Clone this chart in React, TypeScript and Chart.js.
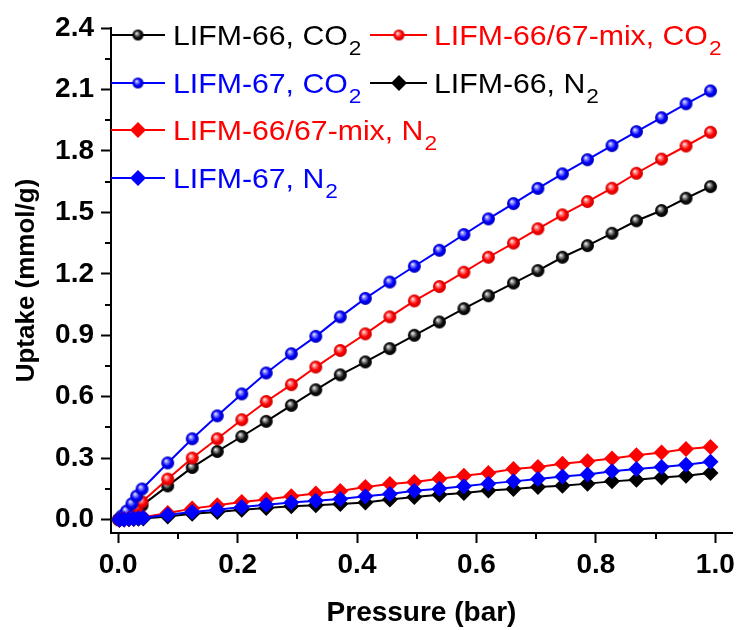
import React, { useEffect, useRef } from "react";
import { Chart, registerables } from "chart.js";

Chart.register(...registerables);

// Pressure points (bar) of the CO2 and N2 isotherms
const pressureCO2 = [
  0.001, 0.006, 0.014, 0.023, 0.031, 0.04, 0.083, 0.124, 0.166, 0.207, 0.248, 0.29, 0.331, 0.372, 0.414,
  0.455, 0.496, 0.538, 0.579, 0.62, 0.662, 0.703, 0.744, 0.786, 0.827, 0.868, 0.91, 0.951, 0.992,
];
const pressureN2 = [
  0.002, 0.01, 0.018, 0.026, 0.034, 0.042, 0.083, 0.124, 0.166, 0.207, 0.248, 0.29, 0.331, 0.372, 0.414,
  0.455, 0.496, 0.538, 0.579, 0.62, 0.662, 0.703, 0.744, 0.786, 0.827, 0.868, 0.91, 0.951, 0.992,
];

// Uptake (mmol/g)
const lifm66CO2 = [
  0.0, 0.008, 0.02, 0.035, 0.05, 0.07, 0.165, 0.255, 0.333, 0.406, 0.48, 0.558, 0.634, 0.707, 0.77,
  0.835, 0.9, 0.965, 1.03, 1.093, 1.155, 1.216, 1.281, 1.338, 1.398, 1.459, 1.509, 1.569, 1.626,
];
const mixCO2 = [
  0.0, 0.01, 0.025, 0.043, 0.062, 0.087, 0.198, 0.301, 0.395, 0.488, 0.577, 0.659, 0.745, 0.826, 0.907,
  0.99, 1.068, 1.138, 1.208, 1.281, 1.35, 1.42, 1.488, 1.553, 1.618, 1.691, 1.76, 1.824, 1.891,
];
const lifm67CO2 = [
  0.002, 0.018, 0.042, 0.078, 0.115, 0.15, 0.277, 0.395, 0.507, 0.614, 0.716, 0.81, 0.895, 0.99, 1.08,
  1.16, 1.237, 1.315, 1.392, 1.468, 1.543, 1.617, 1.688, 1.757, 1.826, 1.894, 1.962, 2.03, 2.093,
];
const lifm66N2 = [
  0.0, 0.001, 0.002, 0.003, 0.004, 0.006, 0.016, 0.029, 0.037, 0.049, 0.057, 0.065, 0.07, 0.077, 0.084,
  0.098, 0.111, 0.122, 0.13, 0.143, 0.15, 0.16, 0.166, 0.176, 0.187, 0.195, 0.206, 0.215, 0.228,
];
const mixN2 = [
  0.0, 0.002, 0.004, 0.006, 0.009, 0.012, 0.033, 0.054, 0.07, 0.086, 0.098, 0.114, 0.128, 0.14, 0.159,
  0.174, 0.184, 0.2, 0.215, 0.228, 0.247, 0.257, 0.273, 0.285, 0.299, 0.314, 0.328, 0.345, 0.355,
];
const lifm67N2 = [
  0.0, 0.001, 0.003, 0.005, 0.007, 0.009, 0.024, 0.037, 0.049, 0.062, 0.073, 0.084, 0.093, 0.101, 0.114,
  0.125, 0.141, 0.151, 0.163, 0.176, 0.187, 0.198, 0.211, 0.22, 0.236, 0.247, 0.257, 0.268, 0.283,
];

// Legend labels: main text and subscript
const labelMain = ["LIFM-66, CO", "LIFM-66/67-mix, CO", "LIFM-67, CO", "LIFM-66, N", "LIFM-66/67-mix, N", "LIFM-67, N"];
const labelSub = ["2", "2", "2", "2", "2", "2"];

// Axis ranges and steps
const xMin = -0.012;
const xMax = 1.028;
const xStep = 0.2;
const yMin = -0.065;
const yMax = 2.4;
const yStep = 0.3;

const BLACK = "#000000";
const RED = "#ff0000";
const BLUE = "#0000ff";
const FONT = "'Liberation Sans', Arial, Helvetica, sans-serif";

type Shade = { base: string; light: string; dark: string };
const shades: Record<string, Shade> = {
  [BLACK]: { base: "#101010", light: "#a8a8a8", dark: "#000000" },
  [RED]: { base: "#ff0000", light: "#ff9a9a", dark: "#c80000" },
  [BLUE]: { base: "#0000ff", light: "#9a9aff", dark: "#0000b4" },
};

// Shaded ball used as the CO2 marker
function makeSphere(color: string, diameter: number): HTMLCanvasElement {
  const s = shades[color];
  const size = Math.ceil(diameter) + 2;
  const c = document.createElement("canvas");
  c.width = size;
  c.height = size;
  const ctx = c.getContext("2d")!;
  const r = diameter / 2;
  const cx = size / 2;
  const cy = size / 2;
  const g = ctx.createRadialGradient(cx - r * 0.3, cy - r * 0.35, 0, cx, cy, r);
  g.addColorStop(0, "#ffffff");
  g.addColorStop(0.22, s.light);
  g.addColorStop(0.62, s.base);
  g.addColorStop(1, s.dark);
  ctx.fillStyle = g;
  ctx.beginPath();
  ctx.arc(cx, cy, r, 0, Math.PI * 2);
  ctx.fill();
  return c;
}

type Series = { x: number[]; y: number[]; color: string; marker: "sphere" | "diamond" };
const seriesList: Series[] = [
  { x: pressureCO2, y: lifm66CO2, color: BLACK, marker: "sphere" },
  { x: pressureCO2, y: mixCO2, color: RED, marker: "sphere" },
  { x: pressureCO2, y: lifm67CO2, color: BLUE, marker: "sphere" },
  { x: pressureN2, y: lifm66N2, color: BLACK, marker: "diamond" },
  { x: pressureN2, y: mixN2, color: RED, marker: "diamond" },
  { x: pressureN2, y: lifm67N2, color: BLUE, marker: "diamond" },
];

// Legend placement: two columns, four rows
const legendCols = [
  { lineStart: 111, lineEnd: 165, markerX: 138, textX: 173 },
  { lineStart: 370, lineEnd: 427, markerX: 399, textX: 434 },
];
const legendRowY = [35, 83, 130, 178];
const legendSlots = [
  [0, 0],
  [0, 1],
  [1, 0],
  [1, 1],
  [2, 0],
  [3, 0],
];

export default function App() {
  const ref = useRef<HTMLCanvasElement>(null);

  useEffect(() => {
    const canvas = ref.current;
    if (!canvas) return;

    const plotSpheres: Record<string, HTMLCanvasElement> = {};
    const keySpheres: Record<string, HTMLCanvasElement> = {};
    [BLACK, RED, BLUE].forEach((c) => {
      plotSpheres[c] = makeSphere(c, 13);
      keySpheres[c] = makeSphere(c, 11);
    });

    const minorTicks = {
      id: "minorTicks",
      afterDraw(chart: any) {
        const { ctx } = chart;
        const xs = chart.scales.x;
        const ys = chart.scales.y;
        const area = chart.chartArea;
        ctx.save();
        ctx.strokeStyle = BLACK;
        ctx.lineWidth = 2;
        ctx.beginPath();
        for (let v = xStep / 2; v < xMax; v += xStep) {
          const px = Math.round(xs.getPixelForValue(v));
          ctx.moveTo(px, area.bottom);
          ctx.lineTo(px, area.bottom + 6);
        }
        for (let v = yStep / 2; v < yMax; v += yStep) {
          const py = Math.round(ys.getPixelForValue(v));
          ctx.moveTo(area.left, py);
          ctx.lineTo(area.left - 6, py);
        }
        ctx.stroke();
        ctx.restore();
      },
    };

    const keyPlugin = {
      id: "seriesKey",
      afterDraw(chart: any) {
        const { ctx } = chart;
        seriesList.forEach((s, i) => {
          const [row, col] = legendSlots[i];
          const c = legendCols[col];
          const y = legendRowY[row];
          ctx.save();
          ctx.strokeStyle = s.color;
          ctx.lineWidth = 2;
          ctx.beginPath();
          ctx.moveTo(c.lineStart, y);
          ctx.lineTo(c.lineEnd, y);
          ctx.stroke();
          if (s.marker === "sphere") {
            const img = keySpheres[s.color];
            ctx.drawImage(img, c.markerX - img.width / 2, y - img.height / 2);
          } else {
            const r = 8;
            ctx.fillStyle = s.color;
            ctx.beginPath();
            ctx.moveTo(c.markerX, y - r);
            ctx.lineTo(c.markerX + r, y);
            ctx.lineTo(c.markerX, y + r);
            ctx.lineTo(c.markerX - r, y);
            ctx.closePath();
            ctx.fill();
          }
          ctx.translate(c.textX, y + 10);
          ctx.scale(1.08, 1);
          ctx.fillStyle = s.color;
          ctx.textBaseline = "alphabetic";
          ctx.textAlign = "left";
          ctx.font = `28px ${FONT}`;
          ctx.fillText(labelMain[i], 0, 0);
          const w = ctx.measureText(labelMain[i]).width;
          ctx.font = `21px ${FONT}`;
          ctx.fillText(labelSub[i], w + 1, 10);
          ctx.restore();
        });
      },
    };

    const datasets = seriesList.map((s, i) => ({
      data: s.x.map((p, k) => ({ x: p, y: s.y[k] })),
      borderColor: s.color,
      backgroundColor: s.color,
      borderWidth: 2,
      pointStyle: s.marker === "sphere" ? plotSpheres[s.color] : "rectRot",
      pointRadius: s.marker === "sphere" ? 6.5 : 8,
      pointBorderWidth: 0,
      pointBackgroundColor: s.color,
      tension: 0,
      fill: false,
      order: 10 - i,
    }));

    const chart = new Chart(canvas, {
      type: "line",
      data: { datasets: datasets as any },
      options: {
        animation: false,
        responsive: false,
        devicePixelRatio: 1,
        layout: { padding: { left: 0, right: 5, top: 28, bottom: 0 } },
        plugins: { legend: { display: false }, tooltip: { enabled: false } },
        scales: {
          x: {
            type: "linear",
            min: xMin,
            max: xMax,
            grid: { drawOnChartArea: false, drawTicks: true, tickLength: 10, tickColor: BLACK, tickWidth: 2 },
            border: { display: true, color: BLACK, width: 2 },
            ticks: {
              stepSize: xStep,
              includeBounds: false,
              padding: 5,
              color: BLACK,
              font: { family: FONT, size: 28, weight: "bold" },
              maxRotation: 0,
              callback: (v: any) => Number(v).toFixed(1),
            },
            title: {
              display: true,
              text: "Pressure (bar)",
              color: BLACK,
              font: { family: FONT, size: 28, weight: "bold" },
              padding: { top: 0, bottom: 0 },
            },
            afterFit: (s: any) => {
              s.height = 97;
              s.paddingLeft = 0;
              s.paddingRight = 0;
            },
          },
          y: {
            type: "linear",
            min: yMin,
            max: yMax,
            grid: { drawOnChartArea: false, drawTicks: true, tickLength: 10, tickColor: BLACK, tickWidth: 2 },
            border: { display: true, color: BLACK, width: 2 },
            ticks: {
              stepSize: yStep,
              includeBounds: false,
              padding: 7,
              color: BLACK,
              font: { family: FONT, size: 28, weight: "bold" },
              callback: (v: any) => Number(v).toFixed(1),
            },
            title: {
              display: true,
              text: "Uptake (mmol/g)",
              color: BLACK,
              font: { family: FONT, size: 26, weight: "bold" },
              padding: { top: 11, bottom: 0 },
            },
            afterFit: (s: any) => {
              s.width = 111;
              s.paddingTop = 0;
              s.paddingBottom = 0;
            },
          },
        },
      },
      plugins: [minorTicks, keyPlugin],
    });

    return () => chart.destroy();
  }, []);

  return (
    <div style={{ position: "absolute", left: 0, top: 0, width: 740, height: 630, background: "#ffffff" }}>
      <canvas ref={ref} width={740} height={630} style={{ display: "block" }} />
    </div>
  );
}
